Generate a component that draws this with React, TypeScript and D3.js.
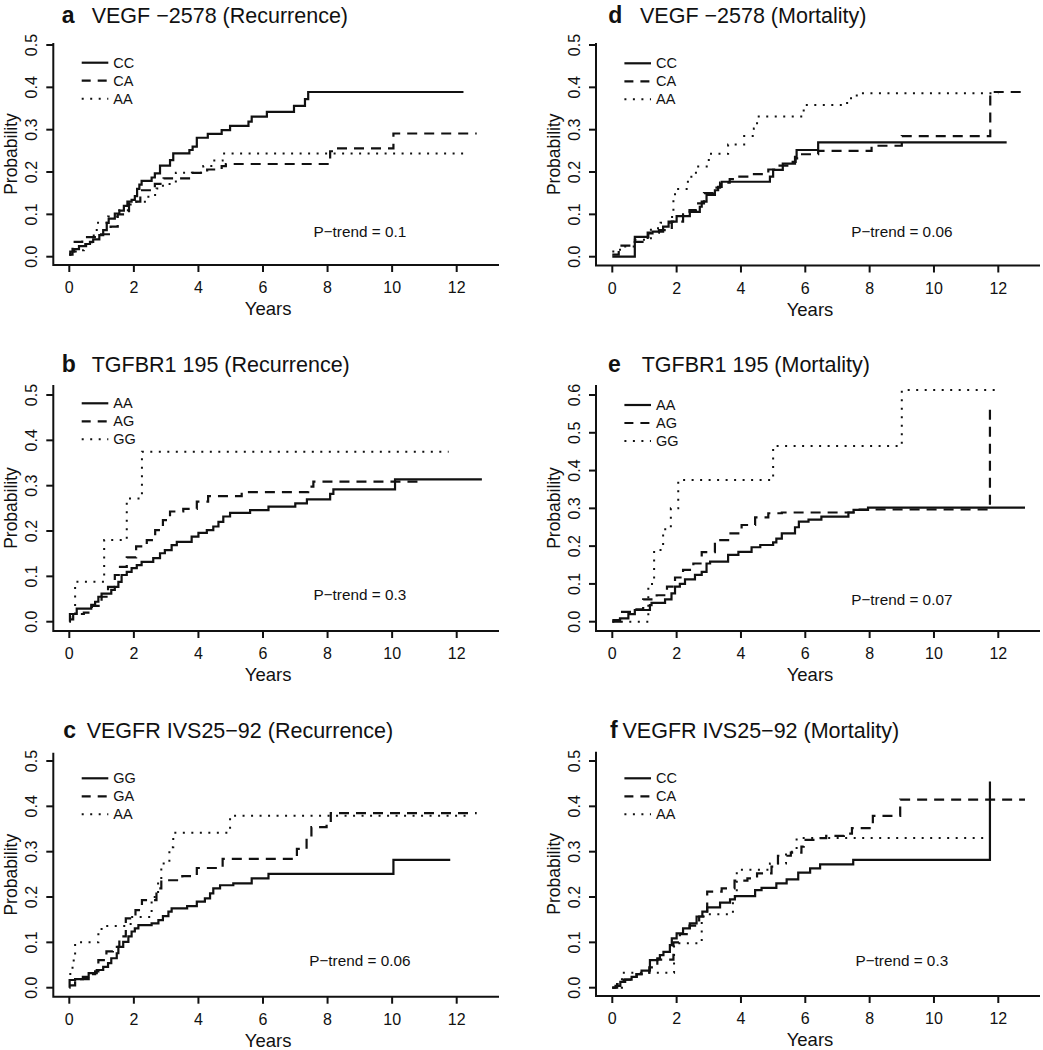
import React from "react";
import * as d3 from "d3";

type Pt = [number, number];

// ---------- Data (time in years, cumulative probability) ----------
const xTicks = [0, 2, 4, 6, 8, 10, 12];
const yTicks05 = [0, 0.1, 0.2, 0.3, 0.4, 0.5];
const yTicks06 = [0, 0.1, 0.2, 0.3, 0.4, 0.5, 0.6];

// a: VEGF -2578 (Recurrence)
const aNames = ["CC", "CA", "AA"];
const aCC: Pt[] = [[0,0.005],[0.03,0.012],[0.15,0.018],[0.3,0.025],[0.52,0.03],[0.64,0.035],[0.74,0.041],[0.93,0.051],[1.05,0.063],[1.16,0.08],[1.22,0.09],[1.41,0.102],[1.55,0.109],[1.69,0.12],[1.8,0.13],[1.93,0.134],[2.03,0.143],[2.1,0.16],[2.17,0.17],[2.24,0.179],[2.55,0.187],[2.65,0.197],[2.81,0.215],[3.12,0.228],[3.22,0.244],[3.72,0.252],[3.82,0.26],[3.95,0.281],[4.29,0.29],[4.72,0.299],[4.98,0.309],[5.55,0.319],[5.65,0.331],[6.12,0.342],[6.96,0.356],[7.3,0.372],[7.4,0.389],[12.21,0.389]];
const aCA: Pt[] = [[0,0.005],[0.1,0.035],[0.4,0.046],[0.95,0.053],[1.28,0.071],[1.5,0.1],[1.85,0.13],[2.2,0.157],[2.65,0.172],[2.92,0.185],[3.8,0.198],[4.27,0.206],[4.72,0.214],[4.85,0.219],[8.08,0.249],[8.25,0.256],[10.04,0.291],[12.62,0.291]];
const aAA: Pt[] = [[0,0.005],[0.2,0.015],[0.45,0.03],[0.7,0.05],[0.85,0.08],[1.2,0.095],[1.55,0.11],[1.9,0.13],[2.45,0.146],[2.7,0.161],[2.9,0.172],[3.3,0.198],[4.15,0.214],[4.45,0.227],[4.75,0.244],[12.21,0.244]];

// d: VEGF -2578 (Mortality)
const dNames = ["CC", "CA", "AA"];
const dCC: Pt[] = [[0,0],[0.7,0.047],[1.12,0.055],[1.25,0.059],[1.58,0.071],[1.75,0.083],[2.0,0.096],[2.41,0.106],[2.72,0.118],[2.78,0.13],[2.93,0.146],[3.19,0.157],[3.29,0.165],[3.4,0.177],[4.9,0.189],[5.0,0.205],[5.3,0.22],[5.68,0.236],[5.73,0.252],[6.4,0.27],[12.26,0.27]];
const dCA: Pt[] = [[0,0.005],[0.2,0.026],[0.6,0.035],[1.1,0.057],[1.45,0.063],[1.85,0.083],[2.2,0.1],[2.4,0.11],[2.6,0.126],[2.85,0.15],[3.15,0.163],[3.35,0.175],[3.65,0.183],[3.95,0.189],[4.35,0.195],[4.85,0.206],[5.2,0.215],[5.55,0.224],[5.7,0.232],[5.9,0.242],[6.4,0.25],[8.06,0.262],[9.0,0.285],[11.75,0.389],[12.83,0.389]];
const dAA: Pt[] = [[0,0.012],[0.24,0.024],[0.7,0.04],[1.2,0.067],[1.5,0.08],[1.8,0.094],[1.9,0.142],[1.95,0.16],[2.35,0.189],[2.6,0.213],[3.0,0.243],[3.6,0.265],[4.1,0.285],[4.4,0.303],[4.5,0.331],[5.95,0.358],[7.3,0.374],[7.6,0.386],[12.0,0.386]];

// b: TGFBR1 195 (Recurrence)
const bNames = ["AA", "AG", "GG"];
const bAA: Pt[] = [[0,0],[0.02,0.017],[0.23,0.029],[0.68,0.037],[0.8,0.044],[0.9,0.055],[1.0,0.062],[1.3,0.07],[1.41,0.077],[1.52,0.088],[1.62,0.103],[1.78,0.11],[1.93,0.118],[2.09,0.125],[2.24,0.132],[2.6,0.14],[2.81,0.151],[2.96,0.158],[3.17,0.169],[3.33,0.176],[3.79,0.1875],[4.0,0.196],[4.26,0.202],[4.46,0.21],[4.62,0.22],[4.77,0.232],[4.98,0.24],[5.6,0.246],[6.17,0.254],[7.0,0.261],[7.36,0.27],[8.08,0.282],[8.18,0.292],[10.09,0.314],[12.78,0.314]];
const bAG: Pt[] = [[0,0.005],[0.12,0.017],[0.45,0.02],[0.7,0.035],[1.0,0.055],[1.2,0.077],[1.41,0.103],[1.57,0.121],[1.78,0.142],[2.07,0.166],[2.4,0.18],[2.66,0.202],[2.9,0.224],[3.12,0.243],[3.53,0.249],[3.95,0.265],[4.3,0.277],[5.34,0.286],[7.4,0.298],[7.56,0.309],[10.92,0.309]];
const bGG: Pt[] = [[0,0.01],[0.18,0.088],[1.08,0.18],[1.78,0.272],[2.25,0.375],[11.75,0.375]];

// e: TGFBR1 195 (Mortality)
const eNames = ["AA", "AG", "GG"];
const eAA: Pt[] = [[0,0],[0.24,0.009],[0.5,0.02],[0.7,0.031],[1.17,0.044],[1.22,0.05],[1.64,0.059],[1.84,0.075],[1.95,0.093],[2.1,0.1],[2.26,0.112],[2.57,0.124],[2.78,0.132],[2.93,0.154],[3.04,0.159],[3.6,0.177],[3.92,0.185],[4.33,0.197],[4.6,0.203],[5.0,0.21],[5.1,0.22],[5.27,0.234],[5.68,0.25],[5.8,0.265],[6.1,0.27],[6.5,0.278],[7.34,0.289],[7.5,0.296],[7.95,0.302],[12.83,0.302]];
const eAG: Pt[] = [[0,0.004],[0.24,0.026],[0.6,0.033],[0.96,0.059],[1.38,0.07],[1.7,0.093],[1.95,0.117],[2.2,0.137],[2.52,0.154],[2.78,0.184],[3.19,0.216],[3.6,0.234],[4.02,0.256],[4.44,0.276],[4.85,0.287],[5.27,0.289],[7.5,0.297],[11.74,0.572]];
const eGG: Pt[] = [[0,0],[1.12,0.1],[1.3,0.19],[1.58,0.245],[1.82,0.3],[2.05,0.375],[5.0,0.465],[9.0,0.613],[12.05,0.613]];

// c: VEGFR IVS25-92 (Recurrence)
const cNames = ["GG", "GA", "AA"];
const cGG: Pt[] = [[0,0],[0.01,0.017],[0.18,0.019],[0.42,0.024],[0.6,0.032],[0.85,0.039],[1.05,0.046],[1.2,0.054],[1.3,0.065],[1.47,0.076],[1.52,0.09],[1.67,0.101],[1.83,0.113],[1.93,0.124],[2.03,0.131],[2.14,0.138],[2.55,0.142],[2.76,0.149],[2.9,0.158],[3.07,0.168],[3.17,0.175],[3.65,0.18],[3.95,0.19],[4.2,0.197],[4.36,0.208],[4.46,0.219],[4.67,0.226],[5.08,0.23],[5.65,0.241],[6.17,0.251],[10.04,0.282],[11.8,0.282]];
const cGA: Pt[] = [[0,0.005],[0.18,0.019],[0.6,0.03],[0.8,0.036],[0.9,0.061],[1.15,0.08],[1.35,0.09],[1.55,0.113],[1.75,0.153],[2.05,0.171],[2.25,0.193],[2.7,0.219],[2.85,0.237],[3.5,0.246],[3.95,0.264],[4.75,0.284],[7.05,0.306],[7.35,0.33],[7.5,0.354],[7.97,0.36],[8.1,0.385],[12.62,0.385]];
const cAA: Pt[] = [[0,0.03],[0.1,0.06],[0.18,0.1],[0.9,0.118],[1.0,0.136],[1.9,0.156],[2.55,0.2],[2.75,0.23],[2.85,0.274],[3.1,0.31],[3.22,0.342],[4.98,0.379],[12.4,0.379]];

// f: VEGFR IVS25-92 (Mortality)
const fNames = ["CC", "CA", "AA"];
const fCC: Pt[] = [[0,0],[0.1,0.004],[0.25,0.013],[0.4,0.018],[0.6,0.024],[0.76,0.03],[0.91,0.0375],[1.17,0.061],[1.4,0.065],[1.48,0.072],[1.59,0.079],[1.79,0.094],[1.85,0.109],[2.0,0.12],[2.2,0.131],[2.41,0.142],[2.62,0.157],[2.8,0.168],[2.95,0.177],[3.35,0.1875],[3.66,0.195],[3.81,0.202],[4.44,0.215],[4.64,0.22],[5.1,0.23],[5.42,0.239],[5.78,0.254],[6.15,0.263],[6.46,0.272],[7.49,0.282],[11.74,0.455]];
const fCA: Pt[] = [[0,0],[0.15,0.008],[0.35,0.018],[0.75,0.03],[1.15,0.045],[1.4,0.062],[1.9,0.1],[2.1,0.118],[2.4,0.137],[2.7,0.157],[2.95,0.212],[3.4,0.219],[3.8,0.236],[4.2,0.241],[4.5,0.252],[4.95,0.267],[5.15,0.291],[5.55,0.298],[5.88,0.311],[5.95,0.326],[6.3,0.33],[6.65,0.335],[7.2,0.34],[7.45,0.352],[8.1,0.379],[8.95,0.415],[12.83,0.415]];
const fAA: Pt[] = [[0,0],[0.3,0.033],[1.92,0.098],[2.78,0.157],[2.88,0.162],[3.75,0.2],[3.87,0.26],[4.9,0.274],[5.4,0.3],[5.73,0.33],[11.74,0.33]];

const pTrends = ["P\u2212trend = 0.1", "P\u2212trend = 0.06", "P\u2212trend = 0.3", "P\u2212trend = 0.07", "P\u2212trend = 0.06", "P\u2212trend = 0.3"];

// ---------- Layout / style ----------
const FONT = "'Liberation Sans', Arial, Helvetica, sans-serif";
const INK = "#111";
const DASH = ["none", "10 7", "2 6.5"];

type PanelCfg = {
  letter: string; title: string; names: string[]; series: Pt[][]; yTicks: number[]; pText: string;
  left: number; right: number; top: number; bottom: number;
  x0: number; x12: number; y0: number; yTopPx: number;
  letterX: number; titleX: number; titleY: number; legendY: number;
};

const panels: PanelCfg[] = [
  { letter: "a", title: "VEGF \u22122578 (Recurrence)", names: aNames, series: [aCC, aCA, aAA], yTicks: yTicks05, pText: pTrends[0],
    left: 53.3, right: 499, top: 43, bottom: 265, x0: 69.3, x12: 456.7, y0: 256.7, yTopPx: 45,
    letterX: 61.7, titleX: 91.7, titleY: 22.5, legendY: 62.7 },
  { letter: "d", title: "VEGF \u22122578 (Mortality)", names: dNames, series: [dCC, dCA, dAA], yTicks: yTicks05, pText: pTrends[1],
    left: 596, right: 1040, top: 43, bottom: 265.5, x0: 612.3, x12: 998.3, y0: 256.7, yTopPx: 45,
    letterX: 608.3, titleX: 640, titleY: 22.5, legendY: 63.3 },
  { letter: "b", title: "TGFBR1 195 (Recurrence)", names: bNames, series: [bAA, bAG, bGG], yTicks: yTicks05, pText: pTrends[2],
    left: 53.3, right: 499, top: 385, bottom: 631, x0: 69.3, x12: 456.7, y0: 621.7, yTopPx: 395,
    letterX: 61.7, titleX: 91.7, titleY: 371.7, legendY: 403.3 },
  { letter: "e", title: "TGFBR1 195 (Mortality)", names: eNames, series: [eAA, eAG, eGG], yTicks: yTicks06, pText: pTrends[3],
    left: 596, right: 1040, top: 385, bottom: 631, x0: 612.3, x12: 998.3, y0: 621.7, yTopPx: 395,
    letterX: 608, titleX: 641.7, titleY: 371.7, legendY: 405 },
  { letter: "c", title: "VEGFR IVS25\u221292 (Recurrence)", names: cNames, series: [cGG, cGA, cAA], yTicks: yTicks05, pText: pTrends[4],
    left: 53.3, right: 499, top: 752.7, bottom: 996.7, x0: 69.3, x12: 456.7, y0: 987.7, yTopPx: 761,
    letterX: 63.3, titleX: 86.7, titleY: 738.3, legendY: 778.3 },
  { letter: "f", title: "VEGFR IVS25\u221292 (Mortality)", names: fNames, series: [fCC, fCA, fAA], yTicks: yTicks05, pText: pTrends[5],
    left: 596, right: 1040, top: 751.7, bottom: 996, x0: 612.3, x12: 998.3, y0: 987.7, yTopPx: 761,
    letterX: 610, titleX: 622.5, titleY: 738.3, legendY: 778.3 },
];

function Panel({ cfg }: { cfg: PanelCfg }) {
  const yMaxTick = cfg.yTicks[cfg.yTicks.length - 1];
  const x = d3.scaleLinear().domain([0, 12]).range([cfg.x0, cfg.x12]);
  const y = d3.scaleLinear().domain([0, yMaxTick]).range([cfg.y0, cfg.yTopPx]);
  const line = d3.line<Pt>().x((d) => x(d[0])).y((d) => y(d[1])).curve(d3.curveStepAfter);
  const fmt = d3.format(".1f");
  const lx1 = cfg.left + 28.4;
  const lx2 = cfg.left + 55;
  const ltx = cfg.left + 60;
  const midY = (cfg.top + cfg.bottom) / 2;
  const midX = (cfg.left + cfg.right) / 2;
  return (
    <g fontFamily={FONT} fill={INK}>
      {/* title */}
      <text x={cfg.letterX} y={cfg.titleY} fontSize={23} fontWeight="bold">{cfg.letter}</text>
      <text x={cfg.titleX} y={cfg.titleY} fontSize={21.5}>{cfg.title}</text>
      {/* axes box (L) */}
      <path d={`M${cfg.left},${cfg.top}V${cfg.bottom}H${cfg.right}`} fill="none" stroke={INK} strokeWidth={2} />
      {xTicks.map((t) => (
        <g key={"x" + t}>
          <line x1={x(t)} x2={x(t)} y1={cfg.bottom} y2={cfg.bottom + 7} stroke={INK} strokeWidth={2} />
          <text x={x(t)} y={cfg.bottom + 28} fontSize={16} textAnchor="middle">{t}</text>
        </g>
      ))}
      {cfg.yTicks.map((v) => (
        <g key={"y" + v}>
          <line x1={cfg.left - 7} x2={cfg.left} y1={y(v)} y2={y(v)} stroke={INK} strokeWidth={2} />
          <text transform={`translate(${cfg.left - 16},${y(v)}) rotate(-90)`} fontSize={16} textAnchor="middle">{fmt(v)}</text>
        </g>
      ))}
      <text x={midX - 8} y={cfg.bottom + 50} fontSize={18.5} textAnchor="middle">Years</text>
      <text transform={`translate(${cfg.left - 36.5},${midY}) rotate(-90)`} fontSize={17.5} textAnchor="middle">Probability</text>
      {/* curves */}
      {cfg.series.map((s, i) => (
        <path key={"s" + i} d={line(s) || ""} fill="none" stroke={INK} strokeWidth={i === 2 ? 2 : 2.2}
          strokeDasharray={DASH[i]} strokeLinecap="butt" />
      ))}
      {/* legend */}
      {cfg.names.map((n, i) => (
        <g key={"l" + n}>
          <line x1={lx1} x2={lx2} y1={cfg.legendY + i * 18} y2={cfg.legendY + i * 18} stroke={INK}
            strokeWidth={i === 2 ? 2 : 2.2} strokeDasharray={i === 1 ? "9 7" : DASH[i]} />
          <text x={ltx} y={cfg.legendY + i * 18 + 5} fontSize={14.5}>{n}</text>
        </g>
      ))}
      <text x={x(9)} y={y(0.06) + 5.5} fontSize={15.3} textAnchor="middle">{cfg.pText}</text>
    </g>
  );
}

export default function App() {
  return (
    <svg width={1043} height={1050} style={{ position: "absolute", left: 0, top: 0, background: "#fff" }}>
      <rect width={1043} height={1050} fill="#fff" />
      {panels.map((p) => (
        <Panel key={p.letter} cfg={p} />
      ))}
    </svg>
  );
}
